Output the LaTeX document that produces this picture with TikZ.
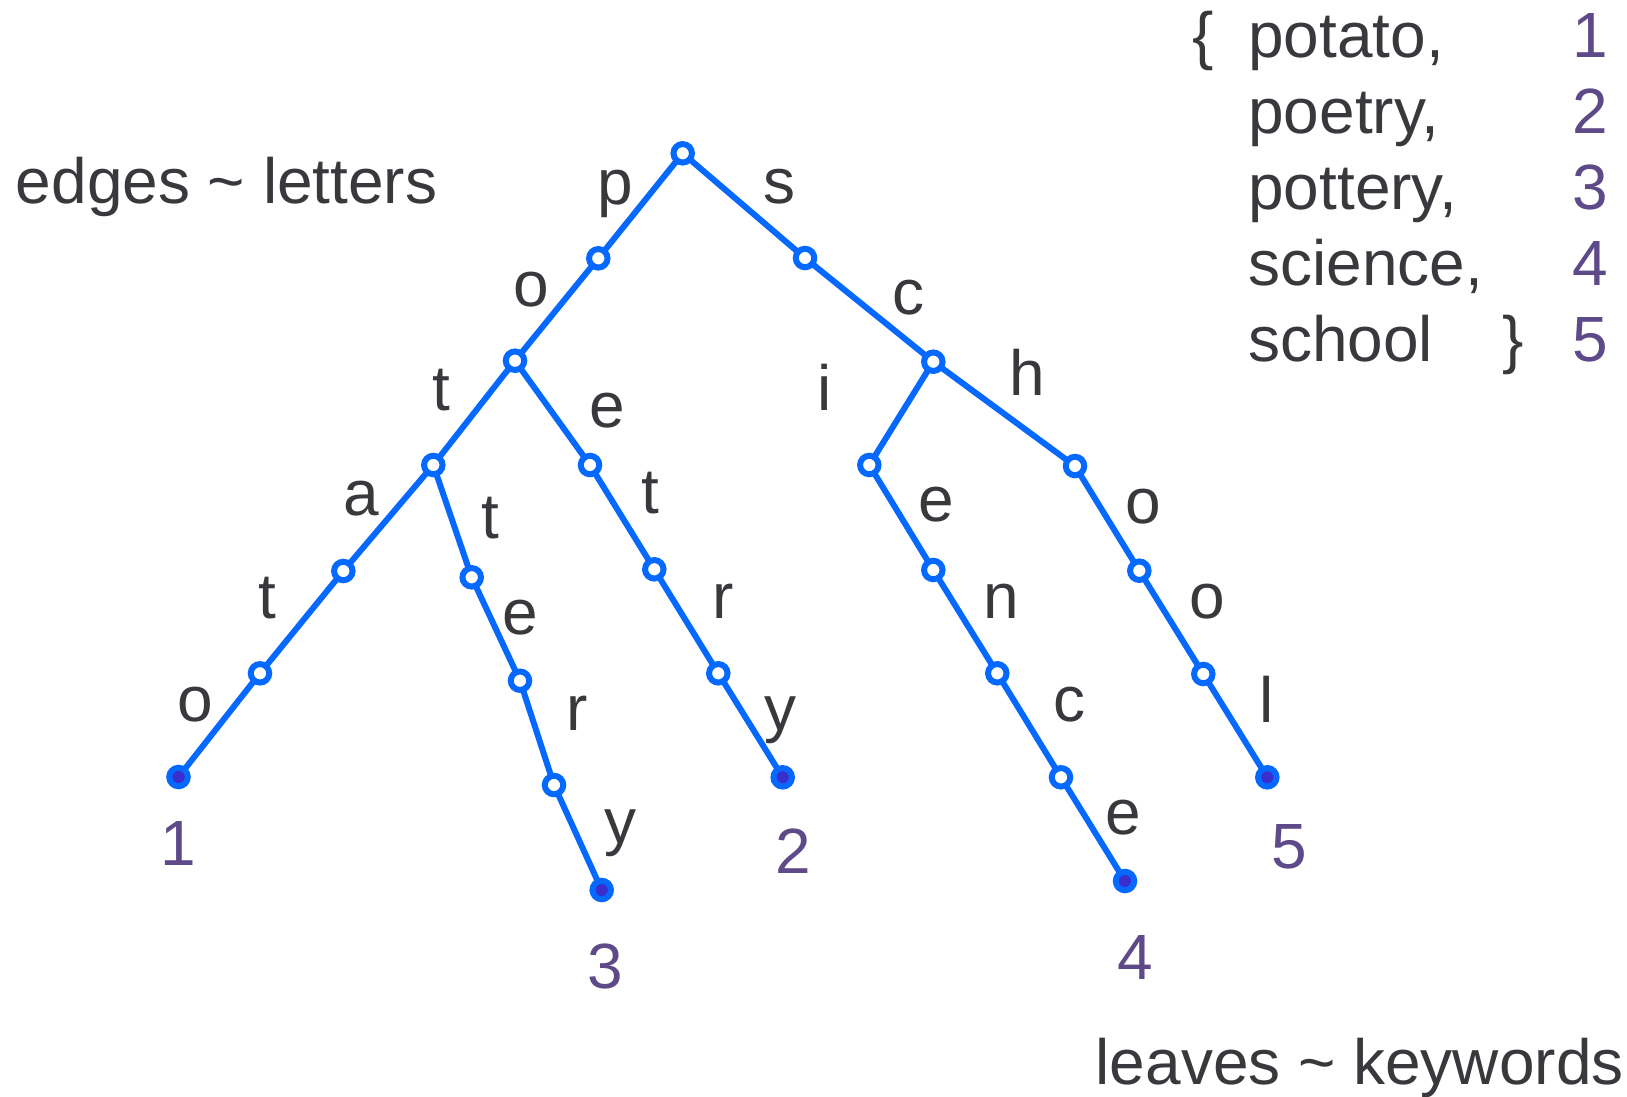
\documentclass[tikz,border=0pt]{standalone}
\usepackage{fontspec}
\setmainfont{Liberation Sans}
\usepackage{tikz}

\definecolor{trieblue}{RGB}{5,105,255}
\definecolor{leafdot}{RGB}{58,46,204}
\definecolor{textgray}{RGB}{56,56,61}
\definecolor{keypurple}{RGB}{94,74,136}

\begin{document}
\begin{tikzpicture}[
				x=0.02cm, y=-0.02cm,
				inner style/.style={
					circle,
					draw=trieblue,
					fill=white,
					line width=0.12cm,
					minimum size=0.37cm,
					inner sep=0pt,
					outer sep=0pt
				},
				leaf style/.style={
					circle,
					draw=trieblue,
					fill=trieblue,
					line width=0.12cm,
					minimum size=0.37cm,
					inner sep=0pt,
					outer sep=0pt,
					path picture={\fill[leafdot] (path picture bounding box.center) circle (0.13cm);}
				},
				edge style/.style={
					draw=trieblue,
					line width=0.12cm
				},
				letter style/.style={
					anchor=base,
					inner sep=0pt,
					text=textgray
				},
				number style/.style={
					anchor=base,
					inner sep=0pt,
					text=keypurple
				},
				font=\fontsize{36.4}{44}\selectfont
				]
				
				\useasboundingbox (0,0) rectangle (1627,1096);
				
				\node[inner style] (root) at (682.7,153.3) {};
				
				\node[inner style] (p) at (598.3,258.3) {};
				\node[inner style] (po) at (515,360.7) {};
				\node[inner style] (pot) at (433.3,465) {};
				\node[inner style] (pota) at (343.3,571) {};
				\node[inner style] (potat) at (260,673.3) {};
				\node[leaf style] (potato) at (178.5,777) {};
				
				\node[inner style] (pott) at (471.7,577.3) {};
				\node[inner style] (potte) at (520,680.7) {};
				\node[inner style] (potter) at (554,785) {};
				\node[leaf style] (pottery) at (601.7,890) {};
				
				\node[inner style] (poe) at (590,465) {};
				\node[inner style] (poet) at (654.3,569.3) {};
				\node[inner style] (poetr) at (718.3,673.3) {};
				\node[leaf style] (poetry) at (782.7,777.3) {};
				
				\node[inner style] (s) at (805,258) {};
				\node[inner style] (sc) at (933.3,361.7) {};
				\node[inner style] (sci) at (869.3,465) {};
				\node[inner style] (scie) at (933.3,570) {};
				\node[inner style] (scien) at (997.3,673.3) {};
				\node[inner style] (scienc) at (1061,777.3) {};
				\node[leaf style] (science) at (1125,881) {};
				
				\node[inner style] (sch) at (1075,466) {};
				\node[inner style] (scho) at (1139.3,570.7) {};
				\node[inner style] (schoo) at (1203.3,674) {};
				\node[leaf style] (school) at (1267.3,777.3) {};
				
				\draw[edge style] (root) -- (p) -- (po) -- (pot) -- (pota) -- (potat) -- (potato);
				\draw[edge style] (pot) -- (pott) -- (potte) -- (potter) -- (pottery);
				\draw[edge style] (po) -- (poe) -- (poet) -- (poetr) -- (poetry);
				\draw[edge style] (root) -- (s) -- (sc) -- (sci) -- (scie) -- (scien) -- (scienc) -- (science);
				\draw[edge style] (sc) -- (sch) -- (scho) -- (schoo) -- (school);
				
				\node[letter style] (lp) at (615.7,204) {p};
				\node[letter style] (lpo) at (531.7,306) {o};
				\node[letter style] (lpot) at (441.7,410) {t};
				\node[letter style] (lpota) at (361.7,515) {a};
				\node[letter style] (lpotat) at (267.3,618.3) {t};
				\node[letter style] (lpotato) at (195.7,721.7) {o};
				\node[letter style] (lpott) at (490.7,538.3) {t};
				\node[letter style] (lpotte) at (520.7,634) {e};
				\node[letter style] (lpotter) at (577.3,730) {r};
				\node[letter style] (lpottery) at (620,843) {y};
				\node[letter style] (lpoe) at (607.7,427) {e};
				\node[letter style] (lpoet) at (650,513.3) {t};
				\node[letter style] (lpoetr) at (722.7,618.3) {r};
				\node[letter style] (lpoetry) at (780,730.5) {y};
				\node[letter style] (ls) at (779.3,203) {s};
				\node[letter style] (lsc) at (908.3,314) {c};
				\node[letter style] (lsci) at (824.5,410.5) {i};
				\node[letter style] (lscie) at (936.7,521.7) {e};
				\node[letter style] (lscien) at (1001.7,618.3) {n};
				\node[letter style] (lscienc) at (1069,721.7) {c};
				\node[letter style] (lscience) at (1123.3,834) {e};
				\node[letter style] (lsch) at (1027.3,395) {h};
				\node[letter style] (lscho) at (1143.3,523.3) {o};
				\node[letter style] (lschoo) at (1207.7,618.3) {o};
				\node[letter style] (lschool) at (1266.7,722.7) {l};
				
				\node[number style] (num1) at (178.5,865) {1};
				\node[number style] (num2) at (793.3,873) {2};
				\node[number style] (num3) at (605,988) {3};
				\node[number style] (num4) at (1135,979) {4};
				\node[number style] (num5) at (1289,868) {5};
				
				\node[letter style, anchor=base west] (edgetext) at (15.6,203) {edges \textasciitilde{} letters};
				\node[letter style, anchor=base east] (leaftext) at (1624,1084) {leaves \textasciitilde{} keywords};
				
				\node[letter style] (lbrace) at (1203,57) {\{};
				\node[letter style, anchor=base west] (word1) at (1248,57) {potato,};
				\node[letter style, anchor=base west] (word2) at (1248,133) {poetry,};
				\node[letter style, anchor=base west] (word3) at (1248,209) {pottery,};
				\node[letter style, anchor=base west] (word4) at (1248,285) {science,};
				\node[letter style, anchor=base west] (word5) at (1248,361) {school};
				\node[letter style] (rbrace) at (1513,361) {\}};
				\node[number style, anchor=base east] (key1) at (1608,57) {1};
				\node[number style, anchor=base east] (key2) at (1608,133) {2};
				\node[number style, anchor=base east] (key3) at (1608,209) {3};
				\node[number style, anchor=base east] (key4) at (1608,285) {4};
				\node[number style, anchor=base east] (key5) at (1608,361) {5};
				
			\end{tikzpicture}
\end{document}
